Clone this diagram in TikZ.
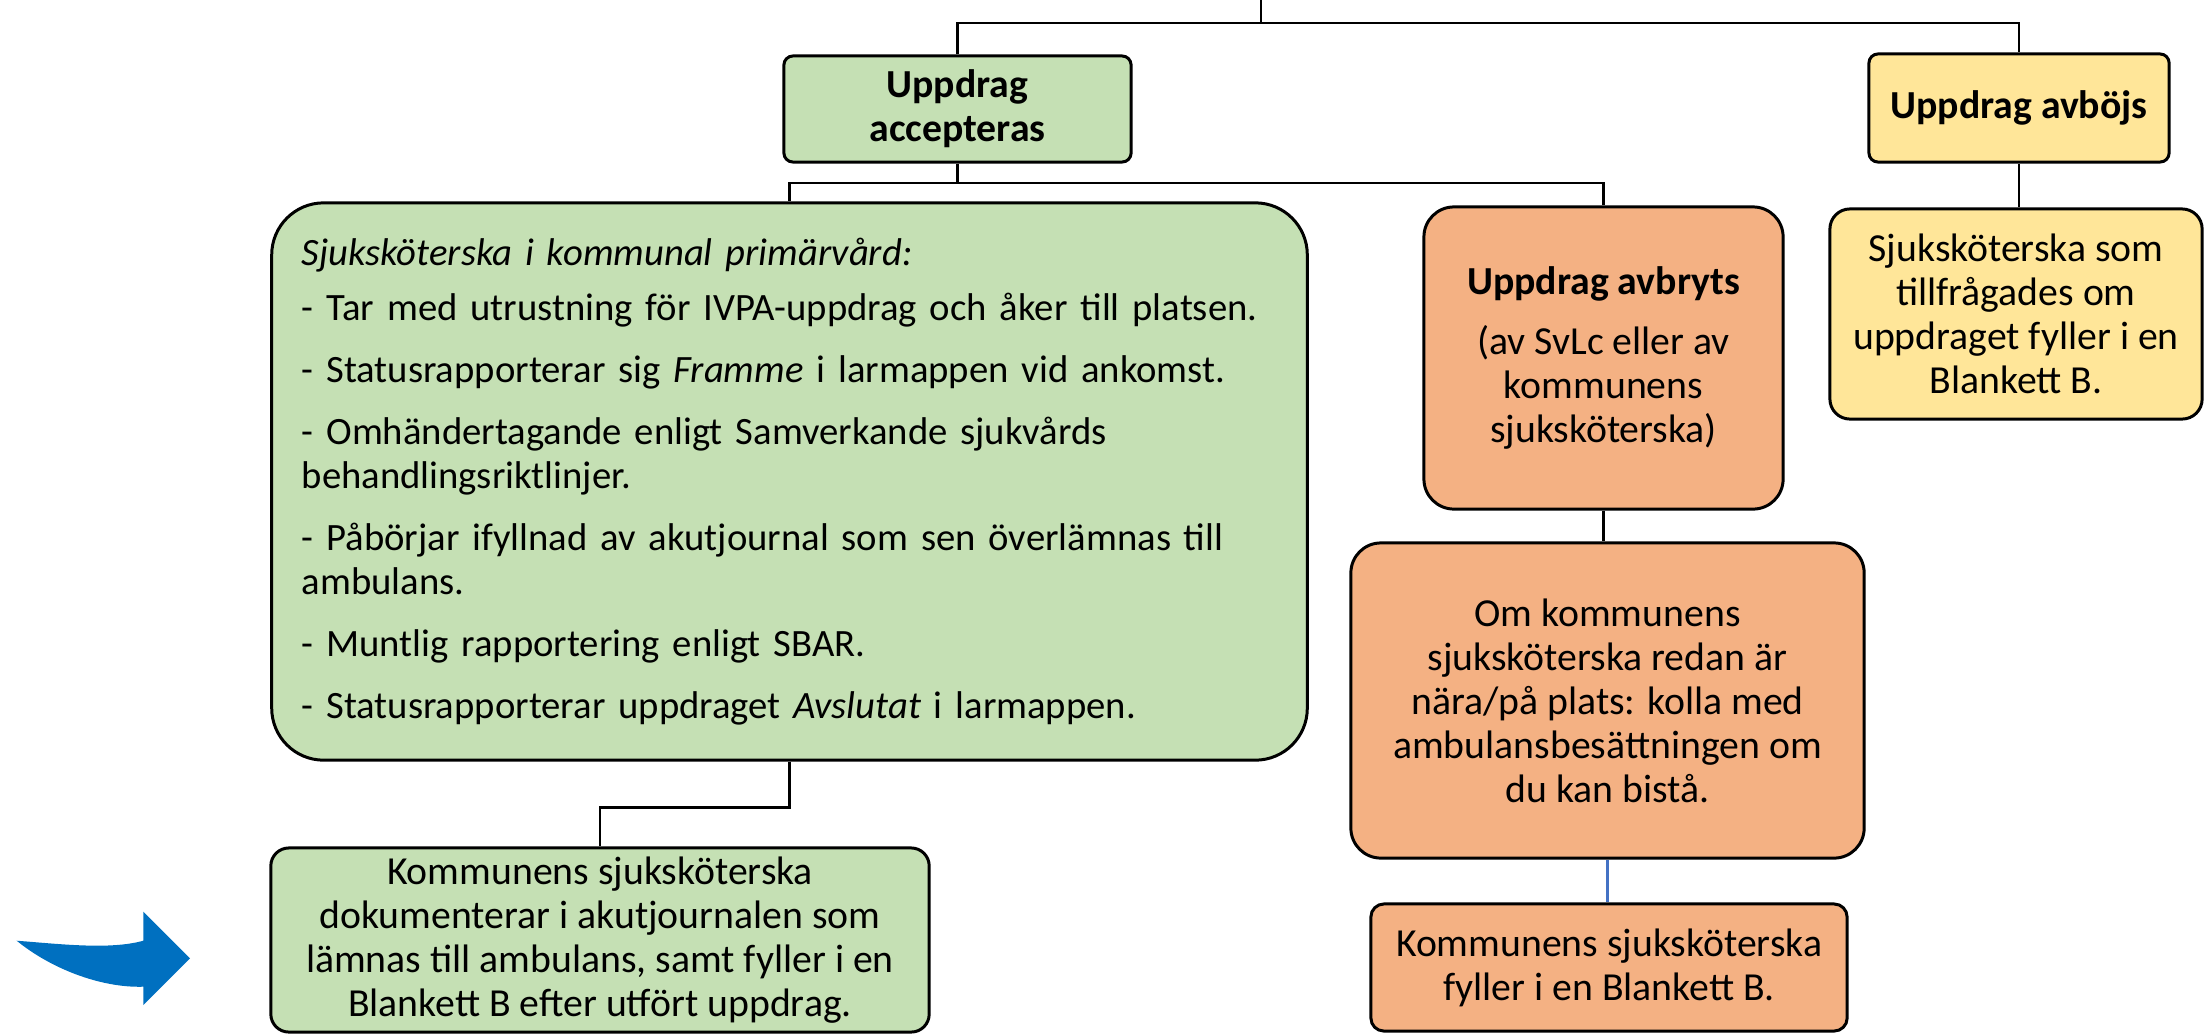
\documentclass[tikz,border=0pt]{standalone}
\usepackage{fontspec}
\setmainfont{Carlito}
\definecolor{boxgreen}{HTML}{C5E0B4}
\definecolor{boxorange}{HTML}{F4B183}
\definecolor{boxyellow}{HTML}{FFE699}
\definecolor{arrowblue}{HTML}{0070C0}
\definecolor{linkblue}{HTML}{4472C4}
\begin{document}
\begin{tikzpicture}[x=0.01cm,y=-0.01cm,
    box/.style={draw=black,line width=0.85pt,align=center,inner sep=0pt,font=\fontsize{11.3}{12.5}\selectfont},
    link/.style={line width=0.75pt}]
      \useasboundingbox (0,0) rectangle (2204,1033);
      \node[box,fill=boxgreen,rounded corners=0.09cm,minimum width=3.47cm,minimum height=1.06cm] (acc) at (957.5,109) {\textbf{Uppdrag}\\\textbf{accepteras}};
      \node[box,fill=boxyellow,rounded corners=0.09cm,minimum width=3.00cm,minimum height=1.08cm] (avb) at (2019,108) {\textbf{Uppdrag avböjs}};
      \node[box,fill=boxgreen,rounded corners=0.52cm,minimum width=10.35cm,minimum height=5.57cm,align=left,text width=9.75cm,inner xsep=0.30cm,font=\fontsize{11}{12.5}\selectfont] (big) at (789.5,481.5) {\textit{Sjuksköterska i kommunal primärvård:}\\[0.11cm]
        - Tar med utrustning för IVPA-uppdrag och åker till platsen.\\[0.18cm]
        - Statusrapporterar sig \textit{Framme} i larmappen vid ankomst.\\[0.18cm]
        - Omhändertagande enligt Samverkande sjukvårds\\behandlingsriktlinjer.\\[0.18cm]
        - Påbörjar ifyllnad av akutjournal som sen överlämnas till\\ambulans.\\[0.18cm]
        - Muntlig rapportering enligt SBAR.\\[0.18cm]
        - Statusrapporterar uppdraget \textit{Avslutat} i larmappen.};
      \node[box,fill=boxorange,rounded corners=0.3cm,minimum width=3.59cm,minimum height=3.02cm] (ab1) at (1603.5,358) {\textbf{Uppdrag avbryts}\\[0.16cm](av SvLc eller av\\kommunens\\sjuksköterska)};
      \node[box,fill=boxyellow,rounded corners=0.2cm,minimum width=3.72cm,minimum height=2.10cm] (fyl) at (2016,314) {Sjuksköterska som\\tillfrågades om\\uppdraget fyller i en\\Blankett B.};
      \node[box,fill=boxorange,rounded corners=0.3cm,minimum width=5.13cm,minimum height=3.15cm] (ab2) at (1607.5,700.5) {Om kommunens\\sjuksköterska redan är\\nära/på plats: kolla med\\ambulansbesättningen om\\du kan bistå.};
      \node[box,fill=boxorange,rounded corners=0.13cm,minimum width=4.76cm,minimum height=1.27cm] (ab3) at (1609,967.5) {Kommunens sjuksköterska\\fyller i en Blankett B.};
      \node[box,fill=boxgreen,rounded corners=0.18cm,minimum width=6.58cm,minimum height=1.84cm] (dok) at (600,940) {Kommunens sjuksköterska\\dokumenterar i akutjournalen som\\lämnas till ambulans, samt fyller i en\\Blankett B efter utfört uppdrag.};
      \coordinate (top) at (1261,0);
      \coordinate (hub) at (1261,23);
      \coordinate (split) at (957.5,183);
      \draw[link] (top) -- (hub);
      \draw[link] (acc.north) |- (hub) -| (avb.north);
      \draw[link] (acc.south) -- (split);
      \draw[link] (split) -| (big.north);
      \draw[link] (split) -| (ab1.north);
      \draw[link] (avb.south) -- (avb.south |- fyl.north);
      \draw[link] (ab1.south) -- (ab1.south |- ab2.north);
      \draw[link,linkblue] (ab2.south) -- (ab2.south |- ab3.north);
      \draw[link] (big.south) -- ++(0,46) -| (dok.north);
      \fill[arrowblue] (16.7,940.7) .. controls (60,944) and (110,950) .. (143.3,940.7) -- (143.3,911.7) -- (190,958.3) -- (143.3,1005) -- (143.3,986.7) .. controls (100,988) and (50,968) .. (16.7,940.7) -- cycle;
\end{tikzpicture}
\end{document}
